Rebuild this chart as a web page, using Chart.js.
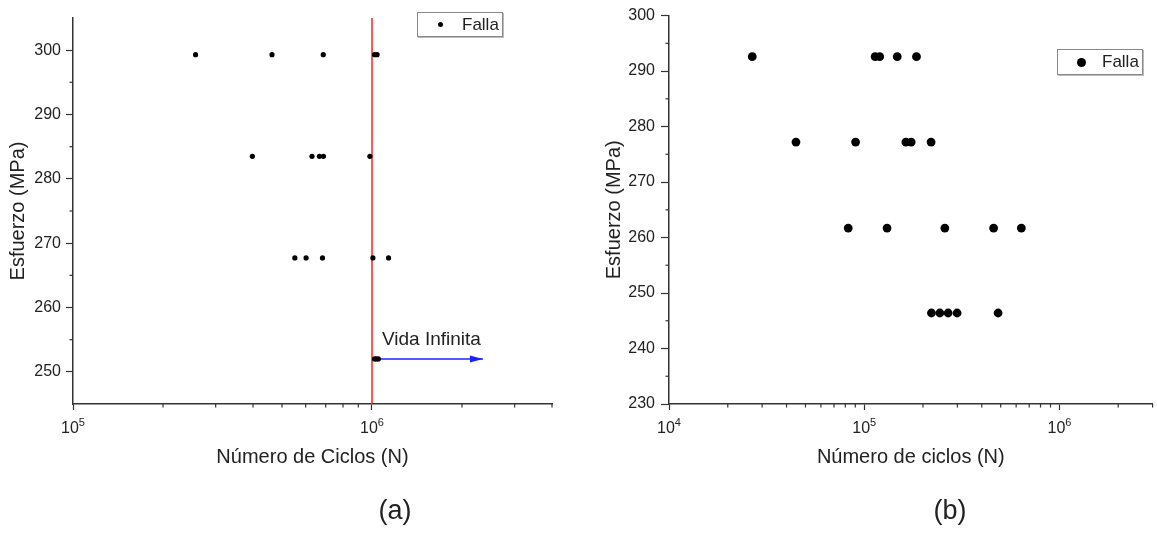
<!DOCTYPE html>
<html>
<head>
<meta charset="utf-8">
<script src="https://cdn.jsdelivr.net/npm/chart.js@4.4.1/dist/chart.umd.min.js"></script>
<style>
  body { margin: 0; width: 1157px; height: 533px; background: #fff; position: relative; overflow: hidden;
         font-family: Arial, "Liberation Sans", sans-serif; color: #222; }
  .panel { position: absolute; top: 0; height: 533px; }
  #boxA { left: 0; width: 560px; }
  #boxB { left: 590px; width: 567px; }
  .legend { position: absolute; box-sizing: border-box; width: 86px; border: 1px solid #888;
            box-shadow: 1px 1px 0 #bbb; background: #fff; font-size: 17px; }
  .legend i { position: absolute; top: 50%; border-radius: 50%; background: #000; }
  .legend span { position: absolute; left: 44px; top: 0; }
  .tag { position: absolute; font-size: 27px; transform: translate(-50%, -50%); }
</style>
</head>
<body>
<div class="panel" id="boxA"><canvas id="chartA"></canvas></div>
<div class="panel" id="boxB"><canvas id="chartB"></canvas></div>

<div class="legend" style="left:417px;top:12px;height:25px;line-height:23px">
  <i style="left:20px;width:5px;height:5px;margin-top:-2.5px"></i><span>Falla</span>
</div>
<div class="legend" style="left:1057px;top:49px;height:26px;line-height:24px">
  <i style="left:19px;width:9px;height:9px;margin-top:-4.5px"></i><span>Falla</span>
</div>
<div class="tag" style="left:395px;top:510px">(a)</div>
<div class="tag" style="left:950px;top:510px">(b)</div>

<script>
// (a) ensayos: ciclos a la falla y esfuerzo
const A_CICLOS = [2.57e5, 4.63e5, 6.87e5, 1.02e6, 1.04e6,
                  3.98e5, 6.30e5, 6.67e5, 6.88e5, 9.84e5,
                  5.52e5, 6.02e5, 6.83e5, 1.007e6, 1.136e6,
                  1.02e6, 1.035e6, 1.05e6];
const A_ESFUERZO = [299.3, 299.3, 299.3, 299.3, 299.3,
                    283.5, 283.5, 283.5, 283.5, 283.5,
                    267.7, 267.7, 267.7, 267.7, 267.7,
                    252.0, 252.0, 252.0];
const A_LIMITE = 1e6;                 // linea roja
const A_FLECHA_N = [1.03e6, 2.35e6];  // flecha vida infinita
const A_FLECHA_S = 252.0;
const A_Y_RANGE = [245, 305];
const A_X_RANGE = [1e5, 4e6];
const A_Y_TICKS = [250, 255, 260, 265, 270, 275, 280, 285, 290, 295, 300];
const A_DECADES = [1e5, 1e6];

// (b) ensayos
const B_CICLOS = [2.67e4, 1.137e5, 1.20e5, 1.476e5, 1.852e5,
                  4.47e4, 9.03e4, 1.634e5, 1.74e5, 2.20e5,
                  8.28e4, 1.309e5, 2.588e5, 4.60e5, 6.38e5,
                  2.21e5, 2.44e5, 2.69e5, 2.99e5, 4.85e5];
const B_ESFUERZO = [292.6, 292.6, 292.6, 292.6, 292.6,
                    277.2, 277.2, 277.2, 277.2, 277.2,
                    261.7, 261.7, 261.7, 261.7, 261.7,
                    246.4, 246.4, 246.4, 246.4, 246.4];
const B_Y_RANGE = [230, 300];
const B_X_RANGE = [1e4, 3e6];
const B_Y_TICKS = [230, 235, 240, 245, 250, 255, 260, 265, 270, 275, 280, 285, 290, 295, 300];
const B_DECADES = [1e4, 1e5, 1e6];

const TEXT = '#222';
const AXIS = '#333';
const FONT = 'Arial, "Liberation Sans", sans-serif';

Chart.defaults.font.family = FONT;

const isPow10 = v => Math.abs(Math.log10(v) - Math.round(Math.log10(v))) < 1e-9;
const isTen = v => Math.abs(v % 10) < 1e-9;

function logTicks(decades, max) {
  const out = [];
  decades.forEach(d => { for (let m = 1; m <= 9; m++) if (d * m <= max * 1.0001) out.push(d * m); });
  return out;
}

// minor ticks, 10^n labels, arrowhead and text label
const extras = {
  id: 'extras',
  afterDraw(chart, args, o) {
    const ctx = chart.ctx;
    const sx = chart.scales.x, sy = chart.scales.y;
    ctx.save();
    ctx.strokeStyle = AXIS;
    ctx.lineWidth = 1.2;
    sx.ticks.forEach(t => {
      if (isPow10(t.value)) return;
      const p = sx.getPixelForValue(t.value);
      ctx.beginPath(); ctx.moveTo(p, sx.top); ctx.lineTo(p, sx.top + 3.5); ctx.stroke();
    });
    sy.ticks.forEach(t => {
      if (isTen(t.value)) return;
      const p = sy.getPixelForValue(t.value);
      ctx.beginPath(); ctx.moveTo(sy.right, p); ctx.lineTo(sy.right - 3.5, p); ctx.stroke();
    });

    // 10 con exponente
    ctx.fillStyle = TEXT;
    ctx.textAlign = 'left';
    ctx.textBaseline = 'alphabetic';
    sx.ticks.forEach(t => {
      if (!isPow10(t.value)) return;
      const base = '10', exp = String(Math.round(Math.log10(t.value)));
      ctx.font = '16px ' + FONT;
      const wb = ctx.measureText(base).width;
      ctx.font = '11px ' + FONT;
      const we = ctx.measureText(exp).width;
      const x0 = sx.getPixelForValue(t.value) - (wb + we) / 2;
      const yb = sx.top + 29;
      ctx.font = '16px ' + FONT;
      ctx.fillText(base, x0, yb);
      ctx.font = '11px ' + FONT;
      ctx.fillText(exp, x0 + wb, yb - 7);
    });

    if (o.arrow != null) {
      const pts = chart.getDatasetMeta(o.arrow).data;
      const tip = pts[pts.length - 1];
      ctx.fillStyle = '#1f1fff';
      ctx.beginPath();
      ctx.moveTo(tip.x, tip.y);
      ctx.lineTo(tip.x - 13, tip.y - 3.5);
      ctx.lineTo(tip.x - 13, tip.y + 3.5);
      ctx.closePath(); ctx.fill();
    }
    if (o.label) {
      ctx.fillStyle = TEXT;
      ctx.font = '19px ' + FONT;
      ctx.fillText(o.label.text, sx.getPixelForValue(o.label.x), sy.getPixelForValue(o.label.y));
    }
    ctx.restore();
  }
};

function makeChart(id, o) {
  return new Chart(document.getElementById(id), {
    type: 'scatter',
    data: { datasets: o.datasets },
    options: {
      responsive: true,
      maintainAspectRatio: false,
      animation: false,
      layout: { padding: o.padding },
      plugins: { legend: { display: false }, tooltip: { enabled: false }, extras: o.extras },
      scales: {
        x: {
          type: 'logarithmic',
          min: o.xRange[0], max: o.xRange[1],
          afterBuildTicks: s => { s.ticks = o.xTicks.map(v => ({ value: v })); },
          afterFit: s => { s.height = 129; },
          border: { color: AXIS, width: 1.5 },
          grid: { drawOnChartArea: false, tickLength: 6, tickWidth: 1.2,
                  tickColor: c => (c.tick && isPow10(c.tick.value)) ? AXIS : 'rgba(0,0,0,0)' },
          ticks: { autoSkip: false, maxRotation: 0, callback: () => '' },
          title: { display: true, text: o.xTitle, color: TEXT, font: { size: 20 }, padding: { top: 0, bottom: 64 } }
        },
        y: {
          min: o.yRange[0], max: o.yRange[1],
          afterBuildTicks: s => { s.ticks = o.yTicks.map(v => ({ value: v })); },
          afterFit: s => { s.width = o.yWidth; },
          border: { color: AXIS, width: 1.5 },
          grid: { drawOnChartArea: false, tickLength: o.tickLen, tickWidth: 1.2,
                  tickColor: c => (c.tick && isTen(c.tick.value)) ? AXIS : 'rgba(0,0,0,0)' },
          ticks: { padding: o.tickPad, color: TEXT, font: { size: 16 },
                   callback: v => isTen(v) ? v : '' },
          title: { display: true, text: 'Esfuerzo (MPa)', color: TEXT, font: { size: 20 },
                   padding: { top: o.yTitlePad, bottom: 0 } }
        }
      }
    },
    plugins: [extras]
  });
}

makeChart('chartA', {
  padding: { top: 18, right: 8, bottom: 0, left: 0 },
  xRange: A_X_RANGE, yRange: A_Y_RANGE,
  xTicks: logTicks(A_DECADES, A_X_RANGE[1]), yTicks: A_Y_TICKS,
  yWidth: 73, tickLen: 7, tickPad: 5, yTitlePad: 6,
  xTitle: 'Número de Ciclos (N)',
  extras: { arrow: 2, label: { text: 'Vida Infinita', x: 1.08e6, y: 254.2 } },
  datasets: [
    { label: 'Falla', data: A_CICLOS.map((n, i) => ({ x: n, y: A_ESFUERZO[i] })),
      backgroundColor: '#000', borderWidth: 0, pointRadius: 2.6, order: 0 },
    { type: 'line', data: [{ x: A_LIMITE, y: A_Y_RANGE[0] }, { x: A_LIMITE, y: A_Y_RANGE[1] }],
      borderColor: '#ff2020', borderWidth: 1.5, pointRadius: 0, fill: false, order: 2 },
    { type: 'line', data: A_FLECHA_N.map(n => ({ x: n, y: A_FLECHA_S })),
      borderColor: '#1f1fff', borderWidth: 1.5, pointRadius: 0, fill: false, order: 1 }
  ]
});

makeChart('chartB', {
  padding: { top: 12, right: 1, bottom: 0, left: 0 },
  xRange: B_X_RANGE, yRange: B_Y_RANGE,
  xTicks: logTicks(B_DECADES, B_X_RANGE[1]), yTicks: B_Y_TICKS,
  yWidth: 79, tickLen: 8, tickPad: 6, yTitlePad: 12.5,
  xTitle: 'Número de ciclos (N)',
  extras: {},
  datasets: [
    { label: 'Falla', data: B_CICLOS.map((n, i) => ({ x: n, y: B_ESFUERZO[i] })),
      backgroundColor: '#000', borderWidth: 0, pointRadius: 4.4 }
  ]
});
</script>
</body>
</html>
